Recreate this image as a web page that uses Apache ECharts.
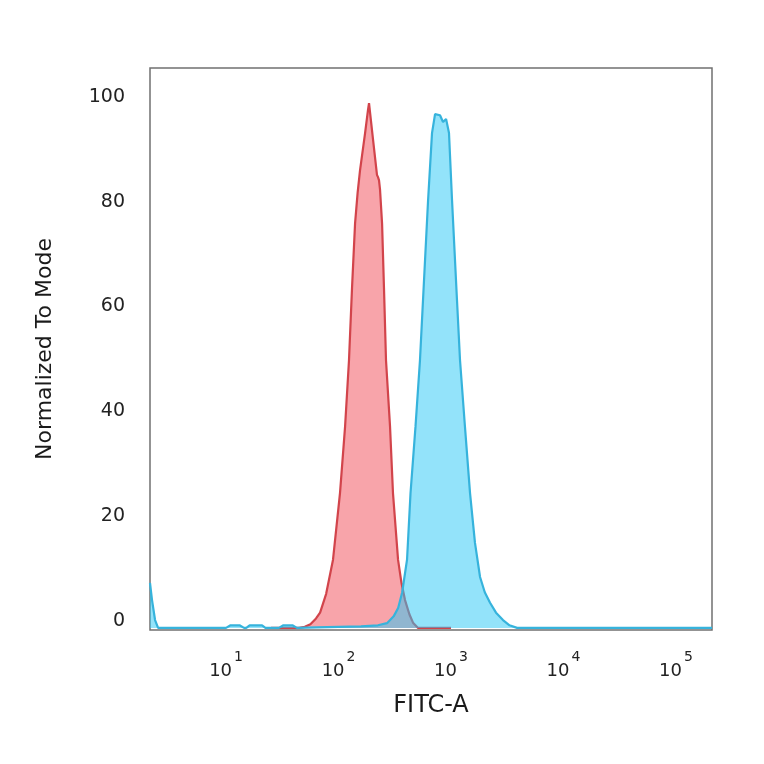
<!DOCTYPE html>
<html>
<head>
<meta charset="utf-8">
<script src="https://cdn.jsdelivr.net/npm/echarts@6/dist/echarts.min.js"></script>
<style>html,body{margin:0;padding:0;background:#fff;}#c{width:764px;height:764px;}</style>
</head>
<body>
<div id="c"></div>
<script>
// Tick values
const yTicks = [0, 20, 40, 60, 80, 100];
const xTickExponents = [1, 2, 3, 4, 5];

// Red histogram (x = log10 FITC-A, y = % of mode)
const redLogX = [1.40, 1.65, 1.70, 1.75, 1.80, 1.836, 1.89, 1.951, 2.013, 2.058, 2.093, 2.12, 2.147, 2.17, 2.191, 2.236, 2.262, 2.271, 2.307, 2.342, 2.351, 2.36, 2.369, 2.387, 2.404, 2.422, 2.458, 2.484, 2.529, 2.56, 2.591, 2.63, 2.662, 2.707, 3.0];
const redY    = [0,    0,    0.2,  0.7,  1.8,  2.9,   6.5,  13,    25.7,  38.3,  51,    64.8, 77.1,  83,   87.2,  94.3,  98.7,  100,   93,    86.3,  85.9,  85.3, 83.5,  77.1,  64.8,  51,    38.3,  25.7,  13,    8.5,  5.3,   2.6,  1,     0,     0];

// Blue histogram
const blueLogX = [0.324, 0.342, 0.369, 0.396, 0.6, 1.0, 1.04, 1.12, 1.16, 1.18, 1.21, 1.32, 1.35, 1.47, 1.51, 1.59, 1.63, 1.8, 2.2, 2.35, 2.431, 2.49, 2.53, 2.565, 2.609, 2.64, 2.684, 2.724, 2.751, 2.796, 2.831, 2.858, 2.902, 2.929, 2.956, 2.982, 3.009, 3.053, 3.08, 3.124, 3.169, 3.213, 3.258, 3.30, 3.347, 3.40, 3.462, 3.52, 3.587, 4.5, 5.32];
const blueY    = [8.6,   5.3,   1.5,   0,     0,   0,   0.5,  0.5,  0,    0,    0.5,  0.5,  0,    0,    0.5,  0.5,  0,    0.1, 0.3, 0.5,  0.9,   2.2,  3.8,  6.7,   13,    25.7, 38.3,  51,    62.5,  81.5,  94.3,  97.9,  97.7,  96.4,  97,    94.3,  81.5,  62.5,  51,   38.3,  25.7,  16.2,  9.7,   6.8,  4.8,   2.9,  1.5,   0.5,  0,     0,   0];

const zip = (xs, ys) => xs.map((x, i) => [x, ys[i]]);

const chart = echarts.init(document.getElementById('c'), null, {renderer: 'canvas'});
chart.setOption({
  animation: false,
  backgroundColor: '#ffffff',
  grid: {
    left: 150, right: 52, top: 68, bottom: 134,
    show: true, borderColor: '#707070', borderWidth: 1.5,
    containLabel: false, outerBoundsMode: 'none'
  },
  xAxis: {
    type: 'value', min: 0.324, max: 5.32,
    name: 'FITC-A', nameLocation: 'middle', nameGap: 64,
    nameTextStyle: {fontFamily: 'DejaVu Sans', fontSize: 24, color: '#1a1a1a'},
    axisLine: {show: false}, axisTick: {show: false}, splitLine: {show: false},
    axisLabel: {
      customValues: xTickExponents,
      margin: 20,
      formatter: v => '{b|10}{s|' + v + '}',
      rich: {
        b: {fontFamily: 'DejaVu Sans', fontSize: 18, color: '#222', verticalAlign: 'bottom'},
        s: {fontFamily: 'DejaVu Sans', fontSize: 14, color: '#222', verticalAlign: 'bottom', padding: [0, 0, 16, 2]}
      }
    }
  },
  yAxis: {
    type: 'value', min: -0.4, max: 106.7,
    name: 'Normalized To Mode', nameLocation: 'middle', nameGap: 94, nameRotate: 90,
    nameTextStyle: {fontFamily: 'DejaVu Sans', fontSize: 22, color: '#1a1a1a'},
    axisLine: {show: false}, axisTick: {show: false}, splitLine: {show: false},
    axisLabel: {
      customValues: yTicks, margin: 25,
      verticalAlign: 'bottom', lineHeight: 13,
      fontFamily: 'DejaVu Sans', fontSize: 19, color: '#222'
    }
  },
  series: [
    {
      type: 'line', data: zip(redLogX, redY), showSymbol: false, smooth: false,
      lineStyle: {color: '#d2444b', width: 2.2},
      areaStyle: {color: '#f25a64', opacity: 0.55},
      z: 2
    },
    {
      type: 'line', data: zip(blueLogX, blueY), showSymbol: false, smooth: false,
      lineStyle: {color: '#36b3dc', width: 2.2},
      areaStyle: {color: '#28c8f5', opacity: 0.5},
      z: 3
    }
  ]
});
</script>
</body>
</html>
